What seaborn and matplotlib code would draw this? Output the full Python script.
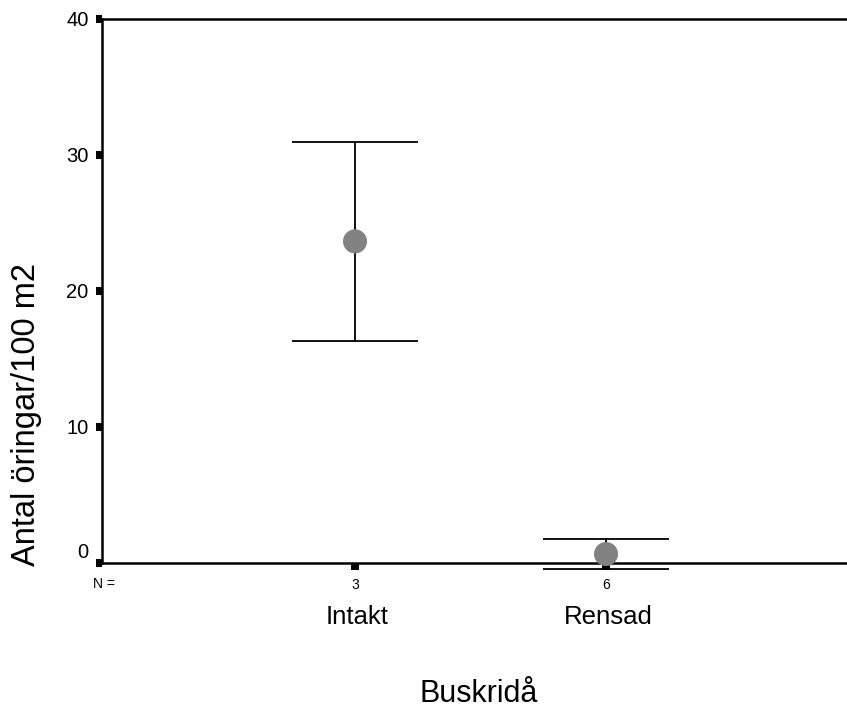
import matplotlib
matplotlib.use("Agg")
import matplotlib.pyplot as plt
import matplotlib.transforms as mtransforms
import seaborn as sns
import pandas as pd

# Mean number of trout per 100 m2 with error-bar limits, by bank vegetation
categories = ["Intakt", "Rensad"]
n_counts = ["3", "6"]
means = [23.65, 0.66]
upper = [30.95, 1.76]
lower = [16.35, -0.44]
y_ticks = [0, 10, 20, 30, 40]

df = pd.DataFrame({"pos": range(len(categories)), "kategori": categories,
                   "medel": means, "ovre": upper, "undre": lower})

sns.set_style("white")
plt.rcParams["font.family"] = ["Liberation Sans", "DejaVu Sans"]
plt.rcParams["text.color"] = "black"
plt.rcParams["xtick.color"] = "black"
plt.rcParams["ytick.color"] = "black"
plt.rcParams["axes.labelcolor"] = "black"

fig = plt.figure(figsize=(8.47, 7.08), dpi=100)
ax = fig.add_axes([102 / 847, 145 / 708, 745 / 847, 544 / 708])

# Error bars (no marker), then the mean markers on top
ax.errorbar(df["pos"], df["medel"],
            yerr=[df["medel"] - df["undre"], df["ovre"] - df["medel"]],
            fmt="none", ecolor="black", elinewidth=1.3, capsize=45.7,
            capthick=1.3, clip_on=False, zorder=3)
sns.scatterplot(data=df, x="pos", y="medel", ax=ax, s=300, color="#828282",
                edgecolor="none", marker="o", zorder=4, clip_on=False,
                legend=False)

ax.set_xlim(-1.008, 1.96)
ax.set_ylim(0, 40)

ax.spines["right"].set_visible(False)
for side in ["left", "top", "bottom"]:
    ax.spines[side].set_linewidth(1.8)
    ax.spines[side].set_color("black")

ax.set_yticks(y_ticks)
ax.set_yticklabels([str(v) for v in y_ticks], fontsize=14.5)
ax.set_xticks(df["pos"])
ax.set_xticklabels(n_counts, fontsize=10)
ax.tick_params(axis="y", direction="out", length=4.3, width=5.8,
               color="black", pad=5.5, left=True)
ax.tick_params(axis="x", direction="out", length=5, width=5.8,
               color="black", pad=5.5, bottom=True)
ax.set_xlabel("")
ax.set_ylabel("")

# The zero label sits just above the baseline
zero_lbl = ax.get_yticklabels()[0]
zero_lbl.set_transform(zero_lbl.get_transform() +
                       mtransforms.ScaledTranslation(0, 12 / 100,
                                                     fig.dpi_scale_trans))

# Sample-size caption and category names under the axis
ax.text(-1.0, -0.026, "N =", transform=ax.get_xaxis_transform(),
        fontsize=10, ha="center", va="top")
for pos, name in zip(df["pos"], categories):
    ax.text(pos + 0.01, (708 - 617) / 708, name,
            transform=mtransforms.blended_transform_factory(
                ax.transData, fig.transFigure),
            fontsize=18.5, ha="center", va="center")

fig.text(479 / 847, (708 - 694) / 708, "Buskridå", fontsize=22,
         ha="center", va="center")
fig.text(27 / 847, (708 - 415) / 708, "Antal öringar/100 m2", fontsize=23.5,
         rotation=90, ha="center", va="center")

fig.savefig("out.png", dpi=100, facecolor="white")
